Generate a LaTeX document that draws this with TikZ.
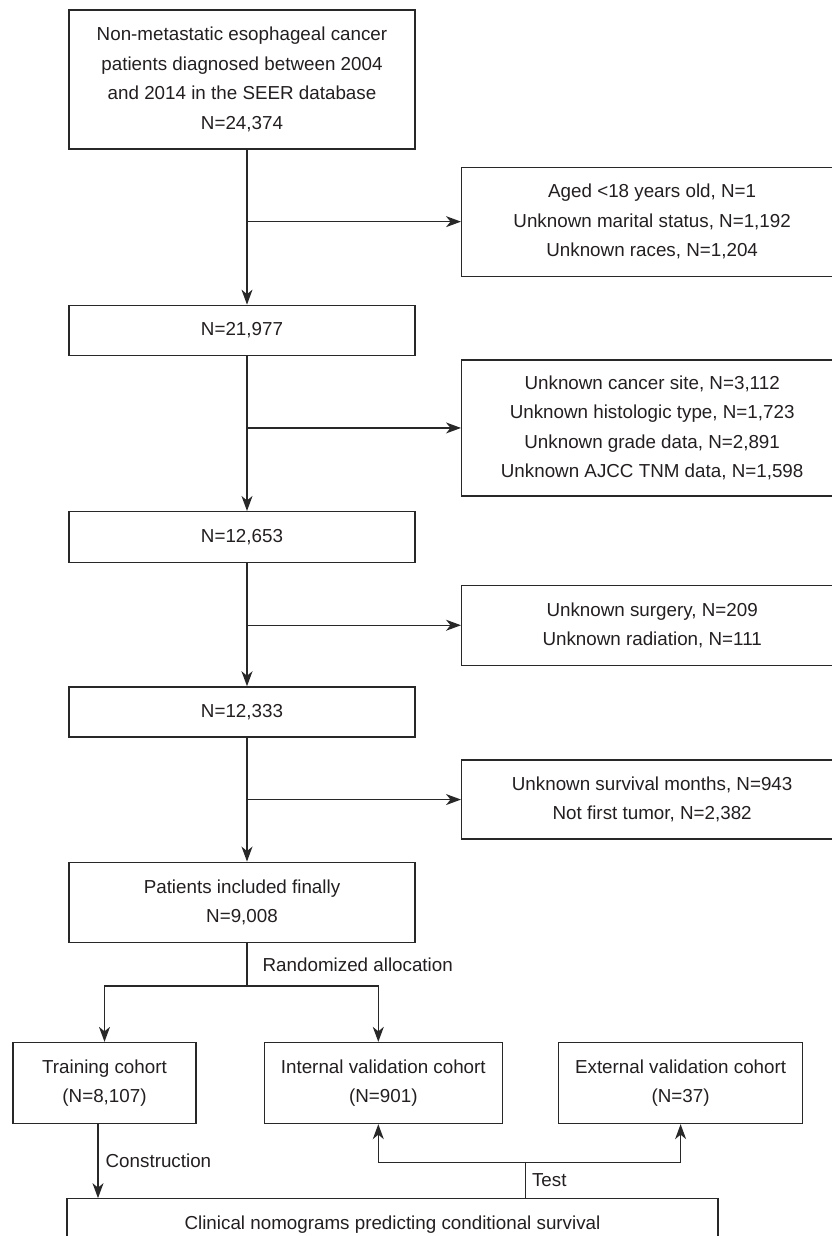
\documentclass[tikz,border=0pt]{standalone}
\usepackage{fontspec}
\setmainfont{Liberation Sans}
\usetikzlibrary{arrows.meta,positioning}
\definecolor{linegray}{RGB}{40,40,40}
\definecolor{textgray}{RGB}{35,31,32}
\tikzset{
  basebox/.style={rectangle,draw=linegray,line width=1.3pt,align=center,inner sep=0pt,text=textgray,font=\fontsize{18.8}{29.5}\selectfont},
  mainbox/.style={basebox,minimum width=346pt},
  exclbox/.style={basebox,minimum width=381pt},
  cohortbox/.style={basebox,minimum height=81pt},
  lbl/.style={inner sep=0pt,text=textgray,font=\fontsize{18.8}{22}\selectfont},
  arr/.style={-{Stealth[length=15pt,width=11pt,inset=4.5pt]},line width=1.3pt,color=linegray},
  ln/.style={line width=1.3pt,color=linegray}
}

\begin{document}
\begin{tikzpicture}[x=1pt,y=1pt]
  \useasboundingbox (0,0) rectangle (831,-1236);

  \node[mainbox,minimum height=139pt] (start) at (242,-79.5) {Non-metastatic esophageal cancer\\patients diagnosed between 2004\\and 2014 in the SEER database\\N=24,374};
  \node[mainbox,minimum height=50pt,below=155pt of start] (n1) {N=21,977};
  \node[mainbox,minimum height=51pt,below=155pt of n1] (n2) {N=12,653};
  \node[mainbox,minimum height=50pt,below=123pt of n2] (n3) {N=12,333};
  \node[mainbox,minimum height=80pt,below=124pt of n3] (incl) {Patients included finally\\N=9,008};

  \coordinate (b1) at ([xshift=5pt,yshift=-72pt]start.south);
  \coordinate (b2) at ([xshift=5pt,yshift=-72pt]n1.south);
  \coordinate (b3) at ([xshift=5pt,yshift=-62pt]n2.south);
  \coordinate (b4) at ([xshift=5pt,yshift=-62pt]n3.south);

  \node[exclbox,minimum height=109pt,right=214pt of b1] (ex1) {Aged <18 years old, N=1\\Unknown marital status, N=1,192\\Unknown races, N=1,204};
  \node[exclbox,minimum height=136pt,right=214pt of b2] (ex2) {Unknown cancer site, N=3,112\\Unknown histologic type, N=1,723\\Unknown grade data, N=2,891\\Unknown AJCC TNM data, N=1,598};
  \node[exclbox,minimum height=80pt,right=214pt of b3] (ex3) {Unknown surgery, N=209\\Unknown radiation, N=111};
  \node[exclbox,minimum height=79pt,right=214pt of b4] (ex4) {Unknown survival months, N=943\\Not first tumor, N=2,382};

  \foreach \a/\b in {start/n1,n1/n2,n2/n3,n3/incl}
    \draw[arr] ([xshift=5pt]\a.south) -- ([xshift=5pt]\b.north);
  \foreach \i in {1,...,4}
    \draw[arr] (b\i) -- (ex\i);

  \node[cohortbox,minimum width=183pt,below right=99pt and -56pt of incl.south west] (train) {Training cohort\\(N=8,107)};
  \node[cohortbox,minimum width=238pt,right=67pt of train] (intv) {Internal validation cohort\\(N=901)};
  \node[cohortbox,minimum width=244pt,right=55pt of intv] (extv) {External validation cohort\\(N=37)};
  \node[basebox,minimum width=651pt,minimum height=52pt,below right=74pt and 54pt of train.south west] (nomo) {Clinical nomograms predicting conditional survival};

  \coordinate (rb) at ([xshift=5pt,yshift=-43pt]incl.south);
  \draw[ln] ([xshift=5pt]incl.south) -- (rb) node[midway,right=15pt,lbl] (rand) {Randomized allocation};
  \draw[arr] (rb) -| (train.north);
  \draw[arr] (rb) -| ([xshift=-5pt]intv.north);

  \draw[arr] ([xshift=-6.5pt]train.south) -- ([xshift=-6.5pt]train.south |- nomo.north) node[midway,right=7pt,lbl] (constr) {Construction};

  \coordinate (tb) at ([xshift=459pt,yshift=36pt]nomo.north west);
  \draw[ln] (tb |- nomo.north) -- (tb) node[midway,right=6pt,lbl] (test) {Test};
  \draw[arr] (tb) -| ([xshift=-5pt]intv.south);
  \draw[arr] (tb) -| (extv.south);
\end{tikzpicture}
\end{document}
